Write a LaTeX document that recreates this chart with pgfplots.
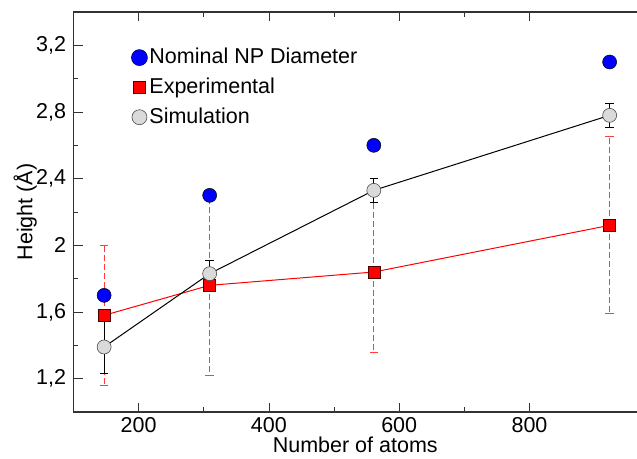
\documentclass[border=0pt]{standalone}
\usepackage{fontspec}
\setmainfont{Liberation Sans}
\usepackage{pgfplots}
\pgfplotsset{compat=1.18}
\definecolor{npblue}{RGB}{0,0,255}
\definecolor{expred}{RGB}{255,0,0}
\definecolor{errred}{RGB}{255,60,60}
\definecolor{simgray}{RGB}{218,218,218}

\begin{document}
\fontsize{21.5}{25}\selectfont
\begin{tikzpicture}
\begin{axis}[
  scale only axis,
  width=563.5pt, height=400pt,
  xmin=100, xmax=965, ymin=1.0, ymax=3.4,
  axis y line*=left, axis x line*=box,
  axis line style={line width=1.3pt, black!80},
  xtick={200,400,600,800}, minor x tick num=1,
  ytick={1.2,1.6,2.0,2.4,2.8,3.2}, minor y tick num=1,
  tick align=inside,
  major tick length=9pt, minor tick length=5pt,
  tick style={black!80, line width=0.8pt},
  /pgf/number format/assume math mode=true,
  /pgf/number format/use comma,
  xticklabel style={yshift=2pt},
  xlabel={Number of atoms}, ylabel={Height (Å)},
  xlabel shift=-10pt, ylabel shift=-15pt,
  legend style={draw=none, fill=none, at={(0.1025,0.915)}, anchor=north west,
    row sep=7pt, inner sep=0pt,
    nodes={inner sep=2pt}},
  legend cell align=left,
  legend image code/.code={\draw[#1] plot coordinates {(0.2cm,0cm)};},
]
% legend entries
\addlegendimage{only marks, mark=*, mark size=8pt, mark options={fill=npblue, draw=black, line width=0.5pt}}
\addlegendentry{Nominal NP Diameter}
\addlegendimage{only marks, mark=square*, mark size=6pt, mark options={fill=expred, draw=black!70!red, line width=0.6pt}}
\addlegendentry{Experimental}
\addlegendimage{only marks, mark=*, mark size=7.5pt, mark options={fill=simgray, draw=black!70, line width=0.6pt}}
\addlegendentry{Simulation}

% nominal NP diameter
\addplot[forget plot, only marks, mark=*, mark size=7pt,
  mark options={fill=npblue, draw=black, line width=0.5pt}]
coordinates {(147,1.70) (309,2.30) (561,2.60) (923,3.10)};

% experimental
\addplot[forget plot, expred, line width=1pt, mark=square*, mark size=6pt,
  mark options={fill=expred, draw=black!70!red, line width=0.6pt},
  error bars/.cd, y dir=both, y explicit,
  error bar style={errred, line width=1pt, dash pattern=on 6pt off 3pt},
  error mark options={errred, solid, line width=1pt, mark size=4.3pt, rotate=90}]
coordinates {
  (147,1.58) +- (0,0.42)
  (309,1.76) +- (0,0.54)
  (561,1.84) +- (0,0.48)
  (923,2.12) +- (0,0.53)
};

% simulation
\addplot[forget plot, black, line width=1pt, mark=*, mark size=7pt,
  mark options={fill=simgray, draw=black!70, line width=0.6pt},
  error bars/.cd, y dir=both, y explicit,
  error bar style={black, line width=1pt},
  error mark options={black, line width=1pt, mark size=4.3pt, rotate=90}]
coordinates {
  (147,1.39) +- (0,0.16)
  (309,1.83) +- (0,0.08)
  (561,2.33) +- (0,0.07)
  (923,2.78) +- (0,0.07)
};
\end{axis}
\pgfresetboundingbox
\path ([shift={(-73.5pt,-46pt)}]current axis.south west)
  rectangle ([shift={(0pt,12pt)}]current axis.north east);
\end{tikzpicture}
\end{document}
